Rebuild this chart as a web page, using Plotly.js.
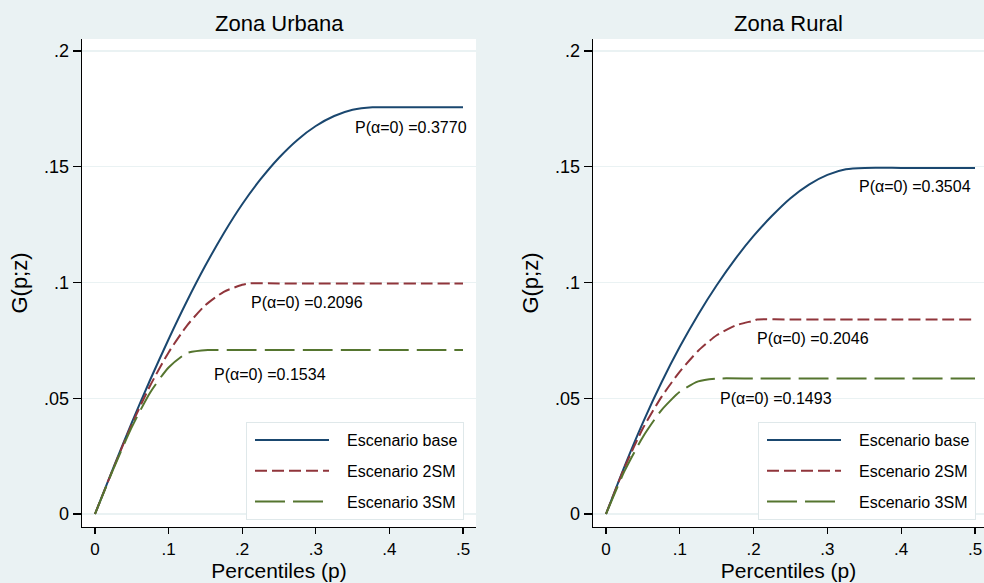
<!DOCTYPE html>
<html>
<head>
<meta charset="utf-8">
<script src="https://cdn.plot.ly/plotly-3.0.1.min.js"></script>
<style>html,body{margin:0;padding:0;background:#eaf2f3;}#chart{width:984px;height:583px;}</style>
</head>
<body>
<div id="chart"></div>
<script>
// ---- Data ----
const panelTitles = ["Zona Urbana", "Zona Rural"];
const seriesNames = ["Escenario base", "Escenario 2SM", "Escenario 3SM"];
const xTickVals = [0, 0.1, 0.2, 0.3, 0.4, 0.5];
const xTickText = ["0", ".1", ".2", ".3", ".4", ".5"];
const yTickVals = [0, 0.05, 0.1, 0.15, 0.2];
const yTickText = ["0", ".05", ".1", ".15", ".2"];

// Zona Urbana
const urbBaseP = [0, 0.025, 0.05, 0.075, 0.1, 0.125, 0.15, 0.175, 0.2, 0.225, 0.25, 0.275, 0.3, 0.325, 0.35, 0.377, 0.4, 0.45, 0.5];
const urbBaseG = [0, 0.0200, 0.0395, 0.0580, 0.0755, 0.0920, 0.1073, 0.1213, 0.1338, 0.1446, 0.1539, 0.1616, 0.1676, 0.1719, 0.1746, 0.1757, 0.1757, 0.1757, 0.1757];
const urb2P = [0, 0.025, 0.05, 0.075, 0.1, 0.125, 0.15, 0.175, 0.2, 0.2096, 0.25, 0.3, 0.35, 0.4, 0.45, 0.5];
const urb2G = [0, 0.0198, 0.0387, 0.0555, 0.0698, 0.0814, 0.0902, 0.0960, 0.0990, 0.0996, 0.0996, 0.0996, 0.0996, 0.0996, 0.0996, 0.0996];
const urb3P = [0, 0.025, 0.05, 0.075, 0.1, 0.125, 0.1534, 0.2, 0.25, 0.3, 0.35, 0.4, 0.45, 0.5];
const urb3G = [0, 0.0195, 0.0375, 0.0525, 0.0633, 0.0695, 0.0708, 0.0708, 0.0708, 0.0708, 0.0708, 0.0708, 0.0708, 0.0708];
const urbHeadcount = ["0.3770", "0.2096", "0.1534"];

// Zona Rural
const rurBaseP = [0, 0.025, 0.05, 0.075, 0.1, 0.125, 0.15, 0.175, 0.2, 0.225, 0.25, 0.275, 0.3, 0.325, 0.3504, 0.4, 0.45, 0.5];
const rurBaseG = [0, 0.0205, 0.0395, 0.0567, 0.0722, 0.0862, 0.0988, 0.1101, 0.1201, 0.1288, 0.1364, 0.1423, 0.1465, 0.1489, 0.1495, 0.1495, 0.1495, 0.1495];
const rur2P = [0, 0.025, 0.05, 0.075, 0.1, 0.125, 0.15, 0.175, 0.2, 0.2046, 0.25, 0.3, 0.35, 0.4, 0.45, 0.5];
const rur2G = [0, 0.0200, 0.0370, 0.0505, 0.0615, 0.0705, 0.0772, 0.0814, 0.0835, 0.0840, 0.0840, 0.0840, 0.0840, 0.0840, 0.0840, 0.0840];
const rur3P = [0, 0.025, 0.05, 0.075, 0.1, 0.125, 0.1493, 0.2, 0.25, 0.3, 0.35, 0.4, 0.45, 0.5];
const rur3G = [0, 0.0185, 0.0333, 0.0448, 0.0528, 0.0573, 0.0585, 0.0585, 0.0585, 0.0585, 0.0585, 0.0585, 0.0585, 0.0585];
const rurHeadcount = ["0.3504", "0.2046", "0.1493"];

// ---- Styles ----
const FONT = "Liberation Sans, Arial, Helvetica, sans-serif";
const colors = ["#1a476f", "#90353b", "#55752f"];
const dashes = ["solid", "12px,5px", "30px,8px"];
const BG = "#eaf2f3";

function mk(x, y, i, xa, ya, leg) {
  return {
    x: x, y: y, type: "scatter", mode: "lines", name: seriesNames[i],
    xaxis: xa, yaxis: ya, legend: leg, legendgroup: leg + i,
    line: {color: colors[i], width: 2, dash: dashes[i], shape: "spline", smoothing: 0.6},
    hoverinfo: "x+y"
  };
}

const traces = [
  mk(urbBaseP, urbBaseG, 0, "x", "y", "legend"),
  mk(urb2P, urb2G, 1, "x", "y", "legend"),
  mk(urb3P, urb3G, 2, "x", "y", "legend"),
  mk(rurBaseP, rurBaseG, 0, "x2", "y2", "legend2"),
  mk(rur2P, rur2G, 1, "x2", "y2", "legend2"),
  mk(rur3P, rur3G, 2, "x2", "y2", "legend2")
];

function xAxis(domain, range, anchor) {
  return {
    domain: domain, range: range, anchor: anchor,
    showline: true, linecolor: "#000", linewidth: 1.3,
    ticks: "outside", ticklen: 6, tickwidth: 1.3, tickcolor: "#000",
    tickvals: xTickVals, ticktext: xTickText,
    tickfont: {family: FONT, size: 17, color: "#000"},
    showgrid: false, zeroline: false,
    title: {text: "Percentiles (p)", font: {family: FONT, size: 21, color: "#000"}, standoff: 3}
  };
}
function yAxis(domain, anchor) {
  return {
    domain: domain, range: [-0.005616, 0.20518], anchor: anchor,
    showline: true, linecolor: "#000", linewidth: 1.3,
    ticks: "outside", ticklen: 8, tickwidth: 1.3, tickcolor: "#000",
    tickvals: yTickVals, ticktext: yTickText,
    tickfont: {family: FONT, size: 18, color: "#000"},
    showgrid: true, gridcolor: BG, gridwidth: 1.3, zeroline: false,
    title: {text: "G(p;z)", font: {family: FONT, size: 22, color: "#000"}, standoff: 10}
  };
}

function legendCfg(x) {
  return {
    x: x, y: 0.21516, xanchor: "left", yanchor: "top", xref: "paper", yref: "paper",
    bgcolor: "#ffffff", bordercolor: "#dfe8ea", borderwidth: 1,
    font: {family: FONT, size: 16, color: "#000"},
    itemwidth: 90, traceorder: "grouped", tracegroupgap: 7
  };
}

function lbl(text, x, y, xr, yr) {
  return {text: "P(α=0) =" + text, x: x, y: y, xref: xr, yref: yr, xanchor: "left", yanchor: "middle",
    showarrow: false, font: {family: FONT, size: 16, color: "#000"}};
}

const layout = {
  width: 984, height: 583,
  margin: {l: 82, r: 0, t: 39, b: 56},
  paper_bgcolor: BG, plot_bgcolor: "#ffffff",
  font: {family: FONT, color: "#000"},
  xaxis: xAxis([0, 0.43681], [-0.01766, 0.51766], "y"),
  yaxis: yAxis([0, 1], "x"),
  xaxis2: xAxis([0.56652, 1], [-0.01762, 0.5122], "y2"),
  yaxis2: yAxis([0, 1], "x2"),
  legend: legendCfg(0.18182),
  legend2: legendCfg(0.74945),
  showlegend: true,
  annotations: [
    {text: panelTitles[0], xref: "x domain", yref: "paper", x: 0.5, y: 1, yshift: 16, yanchor: "middle", xanchor: "center", showarrow: false, font: {family: FONT, size: 22, color: "#000"}},
    {text: panelTitles[1], xref: "x2 domain", yref: "paper", x: 0.5, y: 1, yshift: 16, yanchor: "middle", xanchor: "center", showarrow: false, font: {family: FONT, size: 22, color: "#000"}},
    lbl(urbHeadcount[0], 0.3506, 0.1670, "x", "y"),
    lbl(urbHeadcount[1], 0.2093, 0.09145, "x", "y"),
    lbl(urbHeadcount[2], 0.1594, 0.06035, "x", "y"),
    lbl(rurHeadcount[0], 0.3405, 0.14138, "x2", "y2"),
    lbl(rurHeadcount[1], 0.2019, 0.0759, "x2", "y2"),
    lbl(rurHeadcount[2], 0.1518, 0.04968, "x2", "y2")
  ]
};

Plotly.newPlot("chart", traces, layout, {displayModeBar: false, staticPlot: true}).then(function () {
  document.querySelectorAll(".legendlines path").forEach(function (p) {
    p.setAttribute("d", "M8,0h74");
  });
});
</script>
</body>
</html>
